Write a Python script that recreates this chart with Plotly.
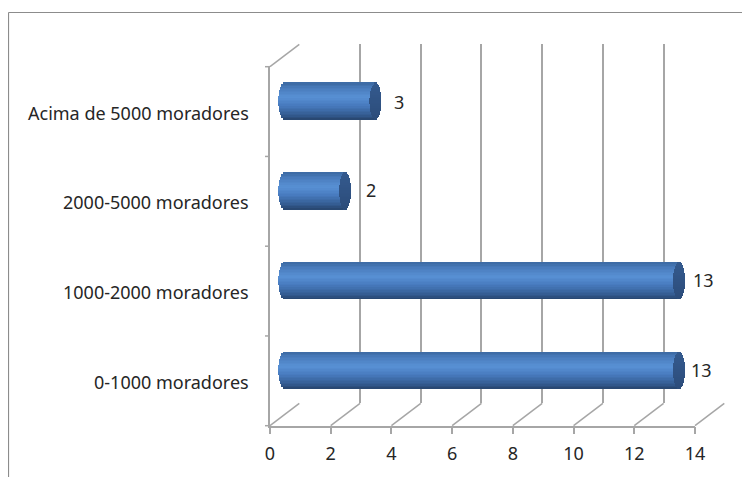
import math
import plotly.graph_objects as go

categories = ["0-1000 moradores", "1000-2000 moradores", "2000-5000 moradores", "Acima de 5000 moradores"]
values = [13, 13, 2, 3]
x_ticks = [0, 2, 4, 6, 8, 10, 12, 14]

PAGE = 8                                         # the page's own margin round the figure
W, H = 750 - PAGE, 477 - PAGE
X0, X1, Y0, Y1 = 270.0, 695.0, 66.7, 425.7       # front plane in window pixels
DX, DY = 29.3, 22.4                              # depth of the back wall in pixels
AXMAX = 14
GRID = "#a6a6a6"
TXT = "#262626"
FONT = "Noto Sans, sans-serif"
FS = 18


def px(x):
    return (x - PAGE) / W


def py(y):
    return 1 - (y - PAGE) / H


def domains(shift):
    dx = shift * DX
    dy = shift * DY
    return ([px(X0 + dx), px(X1 + dx)], [py(Y1 - dy), py(Y0 - dy)])


fig = go.Figure()

back_x, back_y = domains(1.0)
mid_x, mid_y = domains(0.5)
front_x, front_y = domains(0.0)

# the bar plane is one unit wider on each side so the rounded ends are not cut off
unit = (mid_x[1] - mid_x[0]) / AXMAX
mid_x_wide = [mid_x[0] - unit, mid_x[1] + unit]

common_y = dict(type="category", categoryorder="array", categoryarray=categories, range=[-0.5, 3.5])

layout = dict(
    width=W, height=H, margin=dict(l=0, r=0, t=0, b=0, autoexpand=False),
    paper_bgcolor="white", plot_bgcolor="rgba(0,0,0,0)",
    showlegend=False, barmode="overlay", bargap=0,
    font=dict(family=FONT, size=FS, color=TXT),
    xaxis=dict(domain=back_x, range=[0, AXMAX], tickvals=x_ticks, showgrid=True, gridcolor=GRID, gridwidth=1.5,
               showticklabels=False, zeroline=False, showline=False, anchor="y", ticks=""),
    yaxis=dict(domain=back_y, showticklabels=False, showgrid=False, zeroline=False, showline=False, anchor="x",
               ticks="", **common_y),
    xaxis2=dict(domain=mid_x_wide, range=[-1, AXMAX + 1], visible=False, anchor="y2"),
    yaxis2=dict(domain=mid_y, visible=False, anchor="x2", **common_y),
    xaxis3=dict(domain=front_x, range=[0, AXMAX], tickvals=x_ticks, showgrid=False, zeroline=False,
                showline=True, linecolor=GRID, linewidth=1.5, ticks="outside", ticklen=7, tickcolor=GRID,
                tickwidth=1.5, anchor="y3", ticklabelstandoff=4, tickfont=dict(family=FONT, size=FS, color=TXT)),
    yaxis3=dict(domain=front_y, showgrid=False, zeroline=False, showline=True, linecolor=GRID, linewidth=1.5,
                ticks="", anchor="x3", tickmode="array", tickvals=[], **common_y),
)

fig.add_trace(go.Scatter(x=[0], y=[categories[0]], xaxis="x", yaxis="y", mode="markers",
                         marker=dict(opacity=0), hoverinfo="skip"))

# cylinders built from stacked thin bars, each slice following the curved ends
BAR_W = 0.41
N = 24
CAP = 6.0 * AXMAX / (X1 - X0)   # half width of the end ellipse in data units


def mix(a, b, t):
    return "#%02x%02x%02x" % tuple(round(a[i] + (b[i] - a[i]) * t) for i in range(3))


def body_color(t):
    # t from 0 (bottom) to 1 (top)
    stops = [(0.0, (0x27, 0x44, 0x6c)), (0.12, (0x33, 0x5a, 0x8e)), (0.40, (0x48, 0x7c, 0xc0)),
             (0.62, (0x58, 0x90, 0xd4)), (0.88, (0x48, 0x7a, 0xba)), (1.0, (0x3c, 0x69, 0xa2))]
    for (t0, c0), (t1, c1) in zip(stops, stops[1:]):
        if t <= t1:
            return mix(c0, c1, (t - t0) / (t1 - t0))
    return mix(stops[-1][1], stops[-1][1], 0)


for i in range(N):
    t = (i + 0.5) / N
    u = 2 * t - 1
    s = math.sqrt(max(0, 1 - u * u))
    off = -BAR_W / 2 + i * BAR_W / N
    w = BAR_W / N * 1.05
    fig.add_trace(go.Bar(
        y=categories, x=[v + 2 * CAP * s for v in values], base=[-CAP * s] * len(values), orientation="h",
        width=w, offset=off, marker=dict(color=body_color(t), line=dict(width=0)),
        xaxis="x2", yaxis="y2", hoverinfo="skip"))
    fig.add_trace(go.Bar(
        y=categories, x=[2 * CAP * s] * len(values), base=[v - CAP * s for v in values], orientation="h",
        width=w, offset=off, marker=dict(color=mix((0x2c, 0x4c, 0x7a), (0x34, 0x5a, 0x8e), t), line=dict(width=0)),
        xaxis="x2", yaxis="y2", hoverinfo="skip"))

fig.add_trace(go.Scatter(x=[0], y=[categories[0]], xaxis="x3", yaxis="y3", mode="markers",
                         marker=dict(opacity=0), hoverinfo="skip"))

shapes = []


def line(x0, y0, x1, y1, color=GRID, width=1.5):
    shapes.append(dict(type="line", xref="paper", yref="paper", layer="below",
                       x0=px(x0), y0=py(y0), x1=px(x1), y1=py(y1), line=dict(color=color, width=width)))


for tv in x_ticks:
    fx = X0 + (X1 - X0) * tv / AXMAX
    line(fx, Y1, fx + DX, Y1 - DY)
line(X0, Y0, X0 + DX, Y0 - DY)
for k in range(5):
    yy = Y1 - (Y1 - Y0) * k / 4
    line(X0 - 5, yy, X0, yy)
for a in [(8.5, 477, 8.5, 12.5), (8.5, 12.5, 750, 12.5)]:
    line(*a, color="#8c8c8c", width=1.2)

annotations = []
for c in categories:
    annotations.append(dict(x=0, y=c, xref="x3", yref="y3", text=c, showarrow=False, xanchor="right",
                            xshift=-19, yshift=-1, font=dict(family=FONT, size=FS, color=TXT)))
# small per-label offsets, in pixels, in the order of the categories
label_dx = [22, 24, 26, 23]
label_dy = [0, 0, 0, -2]
for c, v, ldx, ldy in zip(categories, values, label_dx, label_dy):
    annotations.append(dict(x=v, y=c, xref="x2", yref="y2", text=str(v), showarrow=False, xanchor="center",
                            xshift=ldx, yshift=ldy, font=dict(family=FONT, size=FS, color=TXT)))

fig.update_layout(**layout, shapes=shapes, annotations=annotations)
fig.write_html("out.html")
